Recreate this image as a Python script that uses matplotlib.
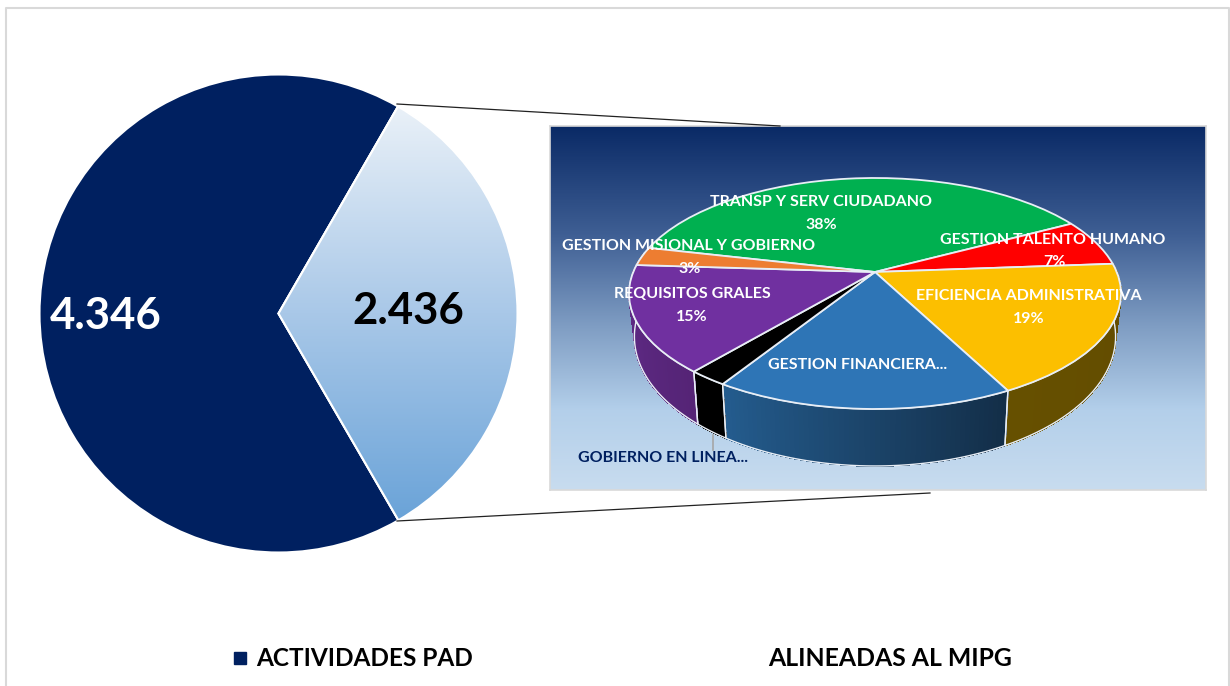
import matplotlib
matplotlib.use('Agg')
import matplotlib.pyplot as plt
import numpy as np
from matplotlib.collections import PolyCollection
from matplotlib.colors import LinearSegmentedColormap, to_rgb
from matplotlib.patches import Rectangle, Wedge
from matplotlib.transforms import Transform

# Values
main_labels = ['4.346', '2.436']
main_shares = [66.7, 33.3]  # drawn angles, the second plot takes a third
legend_labels = ['ACTIVIDADES PAD', 'ALINEADAS AL MIPG']

sub_names = ['TRANSP Y SERV CIUDADANO', 'GESTION TALENTO HUMANO', 'EFICIENCIA ADMINISTRATIVA',
             'GESTION FINANCIERA...', 'GOBIERNO EN LINEA...', 'REQUISITOS GRALES',
             'GESTION MISIONAL Y GOBIERNO']
sub_shares = [38.6, 6.6, 18.6, 16.5, 2.2, 14.9, 2.6]
sub_percent = ['38%', '7%', '19%', '', '', '15%', '3%']
sub_colors = ['#00b050', '#ff0000', '#fcbf00', '#2e75b6', '#000000', '#7030a0', '#ed7d31']
wall_left = ['#00803a', '#b00000', '#665000', '#245c8e', '#000000', '#622d8c', '#a85820']
wall_right = ['#00803a', '#b00000', '#624b00', '#132e48', '#000000', '#552476', '#a85820']

# label centres in picture pixels
sub_label_xy = [(821, 202), (1053, 240), (1029, 296), (858, 365), (663, 458), (692, 294), (689, 246)]
sub_pct_xy = [(821, 225), (1054, 262), (1029, 319), None, None, (692, 317), (690, 269)]

W, H = 1230, 686
NAVY = '#002060'
plt.rcParams['font.family'] = ['Lato', 'DejaVu Sans']


class TiltedDisc(Transform):
    """Unit disc to pixels relative to the apex, with Excel's perspective."""
    input_dims = 2
    output_dims = 2

    def __init__(self, a, b, k, y0=0.0):
        super().__init__()
        self.a, self.b, self.k, self.y0 = a, b, k, y0

    def transform_non_affine(self, values):
        values = np.asarray(values, dtype=float)
        w = 1 + self.k * values[:, 1]
        return np.column_stack([self.a * values[:, 0] / w, self.y0 + self.b * values[:, 1] / w])


fig = plt.figure(figsize=(W / 100, H / 100), dpi=100, facecolor='white')

# page layer in pixels
page = fig.add_axes([0, 0, 1, 1], zorder=0)
page.set_xlim(0, W)
page.set_ylim(H, 0)
page.axis('off')
page.plot([6, 6, 1229, 1229], [H, 8, 8, H], color='#d9d9d9', lw=1.5)

# main pie
ax = fig.add_axes([(278.5 - 239) / W, (H - 313.5 - 239) / H, 478 / W, 478 / H], zorder=1)
wedges, _ = ax.pie(main_shares, startangle=60, counterclock=True, radius=1,
                   colors=[NAVY, 'white'], wedgeprops=dict(edgecolor='white', linewidth=1.5))
ramp = LinearSegmentedColormap.from_list('ramp', ['#eaf1f8', '#a9c8e8', '#6aa3d8'])
grad = ax.imshow(np.linspace(0, 1, 256)[:, None], cmap=ramp, extent=(-1, 1, -0.87, 0.87),
                 aspect='auto', zorder=wedges[1].get_zorder() + 0.1)
grad.set_clip_path(wedges[1])
ax.set_xlim(-1, 1)
ax.set_ylim(-1, 1)
ax.add_patch(Wedge((0, 0), 1, wedges[1].theta1, wedges[1].theta2, facecolor='none',
                   edgecolor='white', linewidth=1.5, zorder=5))

# panel with the second plot
PX0, PY0, PX1, PY1 = 550, 126, 1206, 490
APEX = (875, 272)
bg = fig.add_axes([PX0 / W, (H - PY1) / H, (PX1 - PX0) / W, (PY1 - PY0) / H], zorder=2)
bg_ramp = LinearSegmentedColormap.from_list(
    'panel', [(0, '#0a2a66'), (0.3, '#3f5f94'), (0.55, '#7f9dc3'), (0.78, '#b3cfea'), (1, '#c8dcef')])
bg.imshow(np.linspace(0, 1, 256)[:, None], cmap=bg_ramp, aspect='auto')
bg.set_xticks([])
bg.set_yticks([])
for s in bg.spines.values():
    s.set_color('#d9d9d9')
    s.set_linewidth(1.2)

sub = fig.add_axes([PX0 / W, (H - PY1) / H, (PX1 - PX0) / W, (PY1 - PY0) / H], zorder=3)
sub_wedges, _ = sub.pie(sub_shares, startangle=167.0, counterclock=False, radius=1,
                        colors=sub_colors, wedgeprops=dict(edgecolor='#e8eef6', linewidth=1.3))
sub.set_aspect('auto')
top_disc = TiltedDisc(241.7, 111.5, 0.186)
base_disc = TiltedDisc(236.4, 125.0, 0.186, -40.4)
for w in sub_wedges:
    w.set_transform(top_disc + sub.transData)
    w.set_zorder(4)

# side walls, only the front part of the rim can show
for w, c0, c1 in zip(sub_wedges, wall_left, wall_right):
    lo, hi = w.theta1 % 360, w.theta2 % 360
    if hi <= lo:
        hi += 360
    lo, hi = max(lo, 170.0), min(hi, 370.0)
    if hi <= lo:
        continue
    t = np.radians(np.linspace(lo, hi, max(int(hi - lo), 2) + 1))
    rim = np.column_stack([np.cos(t), np.sin(t)])
    top_pts = top_disc.transform_non_affine(rim)
    base_pts = base_disc.transform_non_affine(rim)
    n = len(t) - 1
    quads, cols = [], []
    for i in range(n):
        f = i / max(n - 1, 1)
        cols.append((1 - f) * np.array(to_rgb(c0)) + f * np.array(to_rgb(c1)))
        quads.append(np.vstack([top_pts[i:i + 2], base_pts[i:i + 2][::-1]]))
    sub.add_collection(PolyCollection(quads, facecolors=cols, edgecolors=cols, linewidths=0.6,
                                      antialiaseds=False, zorder=2))
    ring = np.vstack([top_pts, base_pts[::-1], top_pts[:1]])
    sub.plot(ring[:, 0], ring[:, 1], color='#e8eef6', lw=1.0, zorder=3)
sub.set_xlim(PX0 - APEX[0], PX1 - APEX[0])
sub.set_ylim(APEX[1] - PY1, APEX[1] - PY0)

# everything written on top, in picture pixels
over = fig.add_axes([0, 0, 1, 1], zorder=5)
over.set_xlim(0, W)
over.set_ylim(H, 0)
over.axis('off')
over.patch.set_alpha(0)

over.plot([397, 780], [104, 126], color='#222222', lw=0.9)
over.plot([397, 930], [521, 493], color='#222222', lw=0.9)
over.plot([713, 713], [435, 450], color='#a6a6a6', lw=1.2)

over.text(106, 316, main_labels[0], color='white', fontsize=31.5, fontweight='bold', ha='center', va='center')
over.text(408, 311, main_labels[1], color='black', fontsize=31.5, fontweight='bold', ha='center', va='center')

for name, pct, nxy, pxy in zip(sub_names, sub_percent, sub_label_xy, sub_pct_xy):
    col = NAVY if name.startswith('GOBIERNO') else 'white'
    over.text(nxy[0], nxy[1], name, color=col, fontsize=11.5, fontweight='bold', ha='center', va='center')
    if pxy:
        over.text(pxy[0], pxy[1], pct, color=col, fontsize=11.5, fontweight='bold', ha='center', va='center')

over.add_patch(Rectangle((234, 652), 12, 12, color=NAVY))
over.text(256, 659, legend_labels[0], color='black', fontsize=17.6, fontweight='bold', ha='left', va='center')
over.text(768, 659, legend_labels[1], color='black', fontsize=17.8, fontweight='bold', ha='left', va='center')

fig.savefig('out.png', dpi=100)
